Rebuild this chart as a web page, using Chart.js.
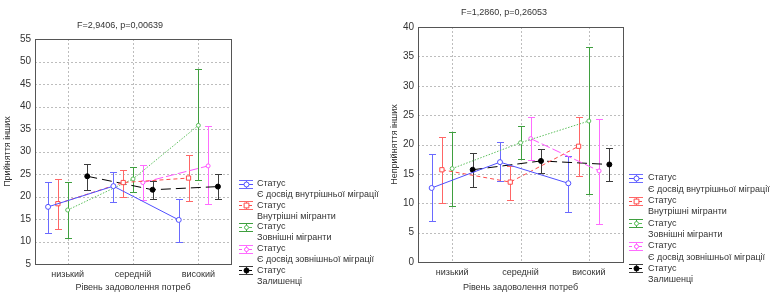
<!doctype html>
<html lang="uk">
  <head>
    <meta charset="utf-8">
    <title>Статус × Рівень задоволення потреб</title>
    <style>
      * { margin: 0; padding: 0; }
      body { width: 774px; height: 295px; background: #fff; position: relative; overflow: hidden; }
      .panel { position: absolute; top: 0; width: 387px; height: 295px; }
      #leftBox { left: 0; }
      #rightBox { left: 387px; }
    </style>
  </head>
  <body>
    <div class="panel" id="leftBox"><canvas id="acceptChart"></canvas></div>
    <div class="panel" id="rightBox"><canvas id="rejectChart"></canvas></div>
    <script src="https://cdn.jsdelivr.net/npm/chart.js"></script>
    <script>
    // data
    const categories = ['низький', 'середній', 'високий'];
    const groups = ['Є досвід внутрішньої міграції', 'Внутрішні мігранти', 'Зовнішні мігранти', 'Є досвід зовнішньої міграції', 'Залишенці'];

    // Прийняття інших (left panel): means and interval bounds, one row per group
    const accMeans = [
      [17.7, 22.3, 14.8],
      [18.4, 23.1, 24.1],
      [17.0, 23.9, 35.8],
      [null, 23.1, 26.8],
      [24.5, 21.5, 22.2]
    ];
    const accLow = [
      [12.0, 18.8, 9.9],
      [12.8, 20.0, 18.9],
      [10.7, 21.0, 23.6],
      [null, 19.3, 18.3],
      [21.4, 19.4, 19.4]
    ];
    const accHigh = [
      [23.2, 25.5, 19.4],
      [24.0, 26.0, 29.2],
      [23.3, 26.6, 48.3],
      [null, 26.9, 35.7],
      [27.3, 23.5, 25.1]
    ];

    // Неприйняття інших (right panel)
    const rejMeans = [
      [12.6, 17.0, 13.4],
      [15.7, 13.6, 19.7],
      [15.9, 20.3, 24.0],
      [null, 21.0, 15.5],
      [15.7, 17.2, 16.6]
    ];
    const rejLow = [
      [7.0, 13.8, 8.5],
      [10.0, 10.5, 14.6],
      [9.5, 17.6, 11.5],
      [null, 17.3, 6.5],
      [12.8, 15.2, 13.8]
    ];
    const rejHigh = [
      [18.3, 20.4, 18.0],
      [21.2, 16.4, 24.7],
      [22.1, 23.2, 36.6],
      [null, 24.7, 24.4],
      [18.6, 19.2, 19.4]
    ];

    // styles
    const FONT = 'Liberation Sans, Arial, sans-serif';
    const TEXT = '#333';
    const dodge = [-0.3, -0.15, 0, 0.15, 0.3];
    const styles = [
      { line: '#5050ff', bar: '#6a6aff', dash: [], point: 'circle', fill: '#fff', r: 2.5 },
      { line: '#ff4a4a', bar: '#ff6666', dash: [4, 3], point: 'rect', fill: '#fff', r: 3 },
      { line: '#5cbf5c', bar: '#3f9f3f', dash: [1.5, 1.5], point: 'circle', fill: '#fff', r: 2 },
      { line: '#ff55ff', bar: '#ff6cff', dash: [9, 3], point: 'circle', fill: '#fff', r: 2 },
      { line: '#000', bar: '#3c3c3c', dash: [10, 5], point: 'circle', fill: '#000', r: 2.5 }
    ];

    function buildDatasets(means, lo, hi) {
      return groups.map(function(g, i) {
        const pts = [];
        means[i].forEach(function(v, c) {
          if (v !== null) pts.push({ x: c + dodge[i], y: v, lo: lo[i][c], hi: hi[i][c] });
        });
        const s = styles[i];
        return {
          label: g,
          data: pts,
          showLine: true,
          borderColor: s.line,
          borderWidth: 1,
          borderDash: s.dash,
          pointStyle: s.point,
          pointRadius: s.r,
          pointBorderWidth: 1,
          pointBackgroundColor: s.fill,
          pointBorderColor: s.line,
          errColor: s.bar
        };
      });
    }

    // dotted grid + error bars, all through the chart's own scales
    const errorBars = {
      id: 'errorBars',
      beforeDatasetsDraw(chart) {
        const ctx = chart.ctx, xs = chart.scales.x, ys = chart.scales.y, a = chart.chartArea;
        ctx.save();
        ctx.lineWidth = 1;
        ctx.strokeStyle = '#bdbdbd';
        ctx.setLineDash([2, 2]);
        ctx.beginPath();
        xs.ticks.forEach(function(t) {
          const x = Math.round(xs.getPixelForValue(t.value)) + 0.5;
          ctx.moveTo(x, a.top); ctx.lineTo(x, a.bottom);
        });
        ys.ticks.forEach(function(t) {
          const y = Math.round(ys.getPixelForValue(t.value)) + 0.5;
          ctx.moveTo(a.left, y); ctx.lineTo(a.right, y);
        });
        ctx.stroke();
        ctx.setLineDash([]);
        chart.data.datasets.forEach(function(ds) {
          ctx.strokeStyle = ds.errColor;
          ds.data.forEach(function(p) {
            const x = Math.round(xs.getPixelForValue(p.x)) + 0.5;
            const y1 = Math.round(ys.getPixelForValue(p.lo)) + 0.5, y2 = Math.round(ys.getPixelForValue(p.hi)) + 0.5;
            ctx.beginPath();
            ctx.moveTo(x, y1); ctx.lineTo(x, y2);
            ctx.moveTo(x - 3.5, y1); ctx.lineTo(x + 3.5, y1);
            ctx.moveTo(x - 3.5, y2); ctx.lineTo(x + 3.5, y2);
            ctx.stroke();
          });
        });
        ctx.restore();
      },
      afterDraw(chart, args, o) {
        const ctx = chart.ctx, a = chart.chartArea;
        ctx.save();
        // frame
        ctx.strokeStyle = '#555';
        ctx.lineWidth = 1;
        ctx.setLineDash([]);
        ctx.strokeRect(Math.round(a.left) + 0.5, Math.round(a.top) + 0.5, Math.round(a.right - a.left), Math.round(a.bottom - a.top));
        // title
        ctx.fillStyle = TEXT;
        ctx.font = o.fs + 'px ' + FONT;
        ctx.textAlign = 'center';
        ctx.textBaseline = 'middle';
        ctx.fillText(o.title, o.titleX, o.titleY);
        // legend
        ctx.textAlign = 'left';
        chart.data.datasets.forEach(function(ds, i) {
          const y = o.legY + i * o.legStep;
          const x0 = o.legX, x1 = o.legX + 14, xm = Math.round(o.legX + 7) + 0.5, yr = Math.round(y) + 0.5;
          ctx.strokeStyle = ds.errColor;
          ctx.setLineDash([]);
          ctx.beginPath();
          ctx.moveTo(x0, yr - 4); ctx.lineTo(x1, yr - 4);
          ctx.moveTo(x0, yr + 4); ctx.lineTo(x1, yr + 4);
          ctx.moveTo(xm, yr - 4); ctx.lineTo(xm, yr + 4);
          ctx.stroke();
          ctx.strokeStyle = ds.borderColor;
          ctx.setLineDash(ds.borderDash.length ? [3, 2] : []);
          ctx.beginPath();
          ctx.moveTo(x0, yr); ctx.lineTo(x1, yr);
          ctx.stroke();
          ctx.setLineDash([]);
          ctx.fillStyle = ds.pointBackgroundColor;
          ctx.strokeStyle = ds.pointBorderColor;
          ctx.beginPath();
          if (ds.pointStyle === 'rect') {
            ctx.rect(xm - ds.pointRadius * 0.8, yr - ds.pointRadius * 0.8, ds.pointRadius * 1.6, ds.pointRadius * 1.6);
          } else {
            ctx.arc(xm, yr, ds.pointRadius, 0, Math.PI * 2);
          }
          ctx.fill(); ctx.stroke();
          ctx.fillStyle = TEXT;
          ctx.fillText('Статус', o.textX, y);
          ctx.fillText(ds.label, o.textX, y + o.legStep / 2);
        });
        ctx.restore();
      }
    };

    function makeChart(id, cfg) {
      const canvasW = 387, canvasH = 295;
      return new Chart(document.getElementById(id), {
        type: 'scatter',
        data: { datasets: buildDatasets(cfg.means, cfg.lo, cfg.hi) },
        options: {
          responsive: false,
          animation: false,
          devicePixelRatio: 1,
          layout: { padding: { left: 0, top: cfg.plotTop, right: canvasW - cfg.plotRight, bottom: 0 } },
          plugins: {
            legend: { display: false },
            tooltip: { enabled: false },
            errorBars: cfg.deco
          },
          scales: {
            x: {
              type: 'linear',
              min: -0.5, max: 2.5,
              afterBuildTicks: function(s) { s.ticks = categories.map(function(c, i) { return { value: i }; }); },
              afterFit: function(s) { s.height = canvasH - cfg.plotBottom; },
              ticks: {
                callback: function(v) { return categories[v]; },
                color: TEXT, font: { family: FONT, size: cfg.deco.fs }, padding: 5, maxRotation: 0
              },
              grid: { color: 'rgba(0,0,0,0)', drawTicks: false },
              border: { display: false },
              title: { display: true, text: 'Рівень задоволення потреб', color: TEXT, font: { family: FONT, size: cfg.deco.fs }, padding: { top: 2, bottom: 2 } }
            },
            y: {
              min: cfg.yMin, max: cfg.yMax,
              ticks: { stepSize: 5, color: TEXT, font: { family: FONT, size: cfg.deco.fs + 1 }, padding: 4 },
              afterFit: function(s) { s.width = cfg.plotLeft; },
              grid: { color: 'rgba(0,0,0,0)', drawTicks: false },
              border: { display: false },
              title: { display: true, text: cfg.yTitle, color: TEXT, font: { family: FONT, size: cfg.deco.fs }, padding: { top: 2, bottom: 2 } }
            }
          }
        },
        plugins: [errorBars]
      });
    }

    document.getElementById('acceptChart').width = 387;
    document.getElementById('acceptChart').height = 295;
    document.getElementById('rejectChart').width = 387;
    document.getElementById('rejectChart').height = 295;

    makeChart('acceptChart', {
      means: accMeans, lo: accLow, hi: accHigh,
      yMin: 5, yMax: 55, yTitle: 'Прийняття інших',
      plotLeft: 35, plotRight: 231, plotTop: 39, plotBottom: 264,
      deco: { title: 'F=2,9406, p=0,00639', titleX: 120, titleY: 26, fs: 9,
              legX: 239, textX: 257, legY: 183.5, legStep: 21.7 }
    });

    makeChart('rejectChart', {
      means: rejMeans, lo: rejLow, hi: rejHigh,
      yMin: 0, yMax: 40, yTitle: 'Неприйняття інших',
      plotLeft: 31, plotRight: 236, plotTop: 27, plotBottom: 262,
      deco: { title: 'F=1,2860, p=0,26053', titleX: 117, titleY: 13, fs: 9,
              legX: 242, textX: 261, legY: 178, legStep: 22.6 }
    });
    </script>
  </body>
</html>
